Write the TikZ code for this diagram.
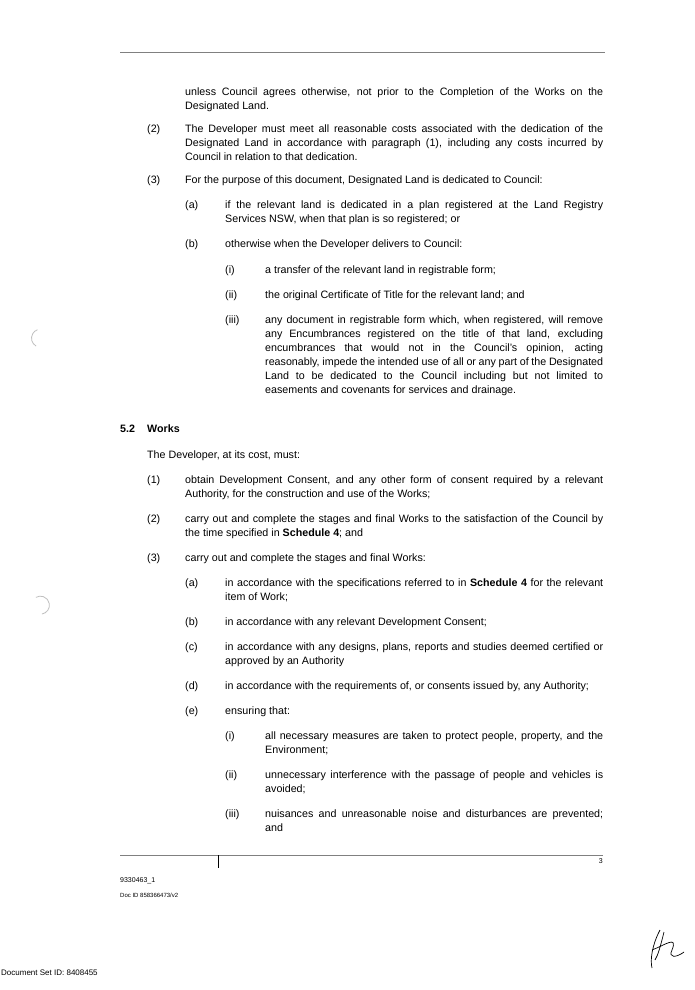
\documentclass[tikz,border=0pt]{standalone}
\usepackage{fontspec}
\setmainfont{Liberation Sans}
\hyphenpenalty=10000
\exhyphenpenalty=10000
\tikzset{
  txt/.style={anchor=north west, inner sep=0pt, font=\fontsize{10.7}{14}\selectfont, align=justify},
  lone/.style={txt, text width=418pt},
  ltwo/.style={txt, text width=378pt},
  lthree/.style={txt, text width=338pt},
  lbl/.style={anchor=north west, inner sep=0pt, font=\fontsize{10.7}{14}\selectfont},
  small/.style={anchor=north west, inner sep=0pt, font=\fontsize{7}{9}\selectfont},
}
\begin{document}
\begin{tikzpicture}[x=1pt,y=-1pt]
    \clip (0,0) rectangle (694,990);
    \fill[white] (0,0) rectangle (694,990);
    % header rule
    \draw[gray, line width=0.6pt] (120,52) -- (605,52);
    % continuation of dedication clause
    \node[lone] (cont) at (185,88) {unless Council agrees otherwise, not prior to the Completion of the Works on the Designated Land.};
    \node[lbl] (n2) at (147,125) {(2)};
    \node[lone] (t2) at (185,125) {The Developer must meet all reasonable costs associated with the dedication of the Designated Land in accordance with paragraph (1), including any costs incurred by Council in relation to that dedication.};
    \node[lbl] (n3) at (147,176) {(3)};
    \node[lone] (t3) at (185,176) {For the purpose of this document, Designated Land is dedicated to Council:};
    \node[lbl] (n3a) at (185,201) {(a)};
    \node[ltwo] (t3a) at (225,201) {if the relevant land is dedicated in a plan registered at the Land Registry\linebreak Services NSW, when that plan is so registered; or};
    \node[lbl] (n3b) at (185,240) {(b)};
    \node[ltwo] (t3b) at (225,240) {otherwise when the Developer delivers to Council:};
    \node[lbl] (n3bi) at (225,266) {(i)};
    \node[lthree] (t3bi) at (265,266) {a transfer of the relevant land in registrable form;};
    \node[lbl] (n3bii) at (225,291) {(ii)};
    \node[lthree] (t3bii) at (265,291) {the original Certificate of Title for the relevant land; and};
    \node[lbl] (n3biii) at (225,316) {(iii)};
    \node[lthree] (t3biii) at (265,316) {any document in registrable form which, when registered, will remove\linebreak any Encumbrances registered on the title of that land, excluding\linebreak encumbrances that would not in the Council's opinion, acting\linebreak reasonably, impede the intended use of all or any part of the Designated\linebreak Land to be dedicated to the Council including but not limited to\linebreak easements and covenants for services and drainage.};
    % clause 5.2
    \node[lbl, font=\fontsize{10.7}{14}\selectfont\bfseries] (s52) at (120,425) {5.2};
    \node[lbl, font=\fontsize{10.7}{14}\selectfont\bfseries] (works) at (147,425) {Works};
    \node[lbl] (intro) at (147,451) {The Developer, at its cost, must:};
    \node[lbl] (w1) at (147,476) {(1)};
    \node[lone] (tw1) at (185,476) {obtain Development Consent, and any other form of consent required by a relevant Authority, for the construction and use of the Works;};
    \node[lbl] (w2) at (147,515) {(2)};
    \node[lone] (tw2) at (185,515) {carry out and complete the stages and final Works to the satisfaction of the Council by\linebreak the time specified in \textbf{Schedule 4}; and};
    \node[lbl] (w3) at (147,554) {(3)};
    \node[lone] (tw3) at (185,554) {carry out and complete the stages and final Works:};
    \node[lbl] (w3a) at (185,579) {(a)};
    \node[ltwo] (tw3a) at (225,579) {in accordance with the specifications referred to in \textbf{Schedule 4} for the relevant item of Work;};
    \node[lbl] (w3b) at (185,618) {(b)};
    \node[ltwo] (tw3b) at (225,618) {in accordance with any relevant Development Consent;};
    \node[lbl] (w3c) at (185,643) {(c)};
    \node[ltwo] (tw3c) at (225,643) {in accordance with any designs, plans, reports and studies deemed certified or approved by an Authority};
    \node[lbl] (w3d) at (185,682) {(d)};
    \node[ltwo] (tw3d) at (225,682) {in accordance with the requirements of, or consents issued by, any Authority;};
    \node[lbl] (w3e) at (185,707) {(e)};
    \node[ltwo] (tw3e) at (225,707) {ensuring that:};
    \node[lbl] (w3ei) at (225,732) {(i)};
    \node[lthree] (tw3ei) at (265,732) {all necessary measures are taken to protect people, property, and the Environment;};
    \node[lbl] (w3eii) at (225,771) {(ii)};
    \node[lthree] (tw3eii) at (265,771) {unnecessary interference with the passage of people and vehicles is avoided;};
    \node[lbl] (w3eiii) at (225,810) {(iii)};
    \node[lthree] (tw3eiii) at (265,810) {nuisances and unreasonable noise and disturbances are prevented;\linebreak and};
    % footer
    \draw[gray, line width=0.6pt] (120,855) -- (603,855);
    \draw[line width=0.8pt] (218,855) -- (218,868);
    \node[small, anchor=north east] (pg) at (603,858) {3};
    \node[small] (ref) at (120,877) {9330463\_1};
    \node[small, font=\fontsize{6}{8}\selectfont] (docid) at (120,893) {Doc ID 858366473/v2};
    \node[small, font=\fontsize{8}{10}\selectfont] (setid) at (1,970) {Document Set ID: 8408455};
    % scan marks and initials
    \draw[gray!50, line width=0.8pt] (36,346) arc (120:250:9);
    \draw[gray!50, line width=0.8pt] (42,614) arc (80:-120:9);
    \draw[line width=0.7pt] (660,930) .. controls (652,945) and (650,960) .. (652,968)
      (664,932) .. controls (660,948) and (658,955) .. (655,960)
      (652,950) .. controls (665,945) and (678,935) .. (672,950)
      .. controls (668,958) and (676,958) .. (684,952);
\end{tikzpicture}
\end{document}
